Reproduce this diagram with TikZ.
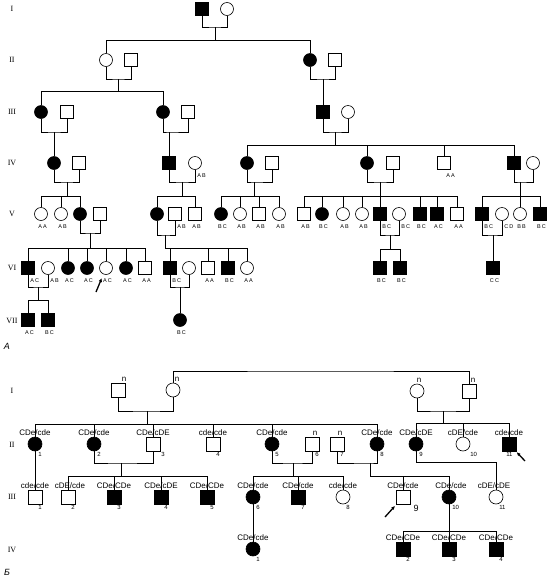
\documentclass[tikz,border=0pt]{standalone}
\usepackage{fontspec}
\setmainfont{Liberation Sans}
\newfontfamily\genfont{Liberation Serif}
\newfontfamily\tinyfont[LetterSpace=20]{Liberation Sans}
\usetikzlibrary{arrows.meta}
\begin{document}
\begin{tikzpicture}[x=1pt,y=-1pt,line width=0.6pt,
  msq/.style={draw,rectangle,minimum size=12.5pt,inner sep=0pt},
  fc/.style={draw,circle,minimum size=13pt,inner sep=0pt},
  bsq/.style={msq,minimum size=14pt},
  bfc/.style={fc,minimum size=14pt},
  aff/.style={fill=black},
  gt/.style={font=\tinyfont\fontsize{5.5}{6}\selectfont,inner sep=1pt,xshift=1.5pt,yshift=-3pt},
  gtr/.style={gt,anchor=north west,xshift=-0.5pt},
  geno/.style={font=\fontsize{8}{9}\selectfont,inner sep=1pt},
  nl/.style={geno,xshift=4pt},
  num/.style={font=\fontsize{6}{7}\selectfont,inner sep=1pt,anchor=north west,xshift=2pt},
  gen/.style={font=\genfont\fontsize{8}{9}\selectfont},
  pointer/.style={-{Latex[length=4pt,width=3.5pt]},line width=1.3pt}]
\useasboundingbox (0,0) rectangle (551,579);

% ---------- pedigree A ----------
\foreach \g/\y in {I/9,II/60,III/112,IV/163,V/214,VI/268,VII/321}
  \node[gen] (gA\g) at (12,\y) {\g};
\node[font=\itshape\fontsize{9}{10}\selectfont] (capA) at (7,346) {A};

% generation I
\node[msq,aff] (A1-1) at (202,9) {};
\node[fc] (A1-2) at (227,9) {};
\coordinate (mA1) at (215,27);
\coordinate (sA1) at (215,40);
\draw (A1-1.south) |- (mA1) -| (A1-2.south);
\draw (mA1) -- (sA1);

% generation II
\node[fc] (A2-1) at (106,60) {};
\node[msq] (A2-2) at (131,60) {};
\node[fc,aff] (A2-3) at (310,60) {};
\node[msq] (A2-4) at (335,60) {};
\foreach \c in {A2-1,A2-3} \draw (\c.north) |- (sA1);
\coordinate (mA2) at (118,79);
\coordinate (sA2) at (118,91);
\coordinate (mA3) at (323,79);
\draw (A2-1.south) |- (mA2) -| (A2-2.south);
\draw (mA2) -- (sA2);
\draw (A2-3.south) |- (mA3) -| (A2-4.south);

% generation III
\node[fc,aff] (A3-1) at (41,112) {};
\node[msq] (A3-2) at (67,112) {};
\node[fc,aff] (A3-3) at (163,112) {};
\node[msq] (A3-4) at (188,112) {};
\node[msq,aff] (A3-5) at (323,112) {};
\node[fc] (A3-6) at (348,112) {};
\foreach \c in {A3-1,A3-3} \draw (\c.north) |- (sA2);
\draw (mA3) -- (A3-5.north);
\coordinate (mA4) at (54,132);
\coordinate (mA5) at (169,132);
\coordinate (mA6) at (335,132);
\coordinate (sA6) at (335,145);
\draw (A3-1.south) |- (mA4) -| (A3-2.south);
\draw (A3-3.south) |- (mA5) -| (A3-4.south);
\draw (A3-5.south) |- (mA6) -| (A3-6.south);
\draw (mA6) -- (sA6);

% generation IV
\node[fc,aff] (A4-1) at (54,163) {};
\node[msq] (A4-2) at (79,163) {};
\node[msq,aff] (A4-3) at (169,163) {};
\node[fc,label={[gtr]south:AB}] (A4-4) at (195,163) {};
\node[fc,aff] (A4-5) at (247,163) {};
\node[msq] (A4-6) at (272,163) {};
\node[fc,aff] (A4-7) at (367,163) {};
\node[msq] (A4-8) at (393,163) {};
\node[msq,label={[gtr]south:AA}] (A4-9) at (444,163) {};
\node[msq,aff] (A4-10) at (514,163) {};
\node[fc] (A4-11) at (533,163) {};
\draw (mA4) -- (A4-1.north);
\draw (mA5) -- (A4-3.north);
\foreach \c in {A4-5,A4-7,A4-9,A4-10} \draw (\c.north) |- (sA6);
\coordinate (mA7) at (67,182);   \coordinate (sA7) at (67,196);
\coordinate (mA8) at (182,182);  \coordinate (sA8) at (182,196);
\coordinate (mA9) at (254,182);  \coordinate (sA9) at (254,196);
\coordinate (mA10) at (380,182); \coordinate (sA10) at (380,196);
\coordinate (mA11) at (520,182); \coordinate (sA11) at (520,196);
\draw (A4-1.south) |- (mA7) -| (A4-2.south);
\draw (A4-3.south) |- (mA8) -| (A4-4.south);
\draw (A4-5.south) |- (mA9) -| (A4-6.south);
\draw (A4-7.south) |- (mA10) -| (A4-8.south);
\draw (A4-10.south) |- (mA11) -| (A4-11.south);
\foreach \m/\s in {mA7/sA7,mA8/sA8,mA9/sA9,mA10/sA10,mA11/sA11} \draw (\m) -- (\s);

% generation V
\node[fc,label={[gt]below:AA}] (A5-1) at (41,214) {};
\node[fc,label={[gt]below:AB}] (A5-2) at (61,214) {};
\node[fc,aff] (A5-3) at (80,214) {};
\node[msq] (A5-4) at (100,214) {};
\node[fc,aff] (A5-5) at (157,214) {};
\node[msq,label={[gtr]south:AB}] (A5-6) at (175,214) {};
\node[msq,label={[gt]below:AB}] (A5-7) at (195,214) {};
\node[fc,aff,label={[gt]below:BC}] (A5-8) at (221,214) {};
\node[fc,label={[gt]below:AB}] (A5-9) at (240,214) {};
\node[msq,label={[gt]below:AB}] (A5-10) at (259,214) {};
\node[fc,label={[gt]below:AB}] (A5-11) at (279,214) {};
\node[msq,label={[gt]below:AB}] (A5-12) at (304,214) {};
\node[fc,aff,label={[gt]below:BC}] (A5-13) at (322,214) {};
\node[fc,label={[gt]below:AB}] (A5-14) at (343,214) {};
\node[fc,label={[gt]below:AB}] (A5-15) at (362,214) {};
\node[msq,aff,label={[gtr]south:BC}] (A5-16) at (380,214) {};
\node[fc,label={[gtr]south:BC}] (A5-17) at (399,214) {};
\node[msq,aff,label={[gt]below:BC}] (A5-18) at (420,214) {};
\node[msq,aff,label={[gt]below:AC}] (A5-19) at (437,214) {};
\node[msq,label={[gt]below:AA}] (A5-20) at (457,214) {};
\node[msq,aff,label={[gtr]south:BC}] (A5-21) at (482,214) {};
\node[fc,label={[gtr]south:CD}] (A5-22) at (502,214) {};
\node[fc,label={[gt]below:BB}] (A5-23) at (520,214) {};
\node[msq,aff,label={[gt]below:BC}] (A5-24) at (540,214) {};
\foreach \c in {A5-1,A5-2,A5-3} \draw (\c.north) |- (sA7);
\foreach \c in {A5-5,A5-7} \draw (\c.north) |- (sA8);
\foreach \c in {A5-8,A5-9,A5-10,A5-11} \draw (\c.north) |- (sA9);
\foreach \c in {A5-12,A5-13,A5-14,A5-15,A5-16,A5-18,A5-19,A5-20} \draw (\c.north) |- (sA10);
\foreach \c in {A5-21,A5-23,A5-24} \draw (\c.north) |- (sA11);
\coordinate (mA12) at (90,233);  \coordinate (sA12) at (90,248);
\coordinate (mA13) at (165,235); \coordinate (sA13) at (165,248);
\coordinate (mA14) at (390,235); \coordinate (sA14) at (390,249);
\coordinate (mA15) at (493,235);
\draw (A5-3.south) |- (mA12) -| (A5-4.south);
\draw (A5-5.south) |- (mA13) -| (A5-6.south);
\draw (A5-16.south) |- (mA14) -| (A5-17.south);
\draw (A5-21.south) |- (mA15) -| (A5-22.south);
\foreach \m/\s in {mA12/sA12,mA13/sA13,mA14/sA14} \draw (\m) -- (\s);

% generation VI
\node[msq,aff,label={[gtr]south:AC}] (A6-1) at (28,268) {};
\node[fc,label={[gtr]south:AB}] (A6-2) at (48,268) {};
\node[fc,aff,label={[gt]below:AC}] (A6-3) at (68,268) {};
\node[fc,aff,label={[gt]below:AC}] (A6-4) at (87,268) {};
\node[fc,label={[gt]below:AC}] (A6-5) at (106,268) {};
\node[fc,aff,label={[gt]below:AC}] (A6-6) at (126,268) {};
\node[msq,label={[gt]below:AA}] (A6-7) at (145,268) {};
\node[msq,aff,label={[gtr]south:BC}] (A6-8) at (170,268) {};
\node[fc] (A6-9) at (189,268) {};
\node[msq,label={[gt]below:AA}] (A6-10) at (208,268) {};
\node[msq,aff,label={[gt]below:BC}] (A6-11) at (228,268) {};
\node[fc,label={[gt]below:AA}] (A6-12) at (247,268) {};
\node[msq,aff,label={[gt]below:BC}] (A6-13) at (380,268) {};
\node[msq,aff,label={[gt]below:BC}] (A6-14) at (400,268) {};
\node[msq,aff,label={[gt]below:CC}] (A6-15) at (493,268) {};
\foreach \c in {A6-1,A6-3,A6-4,A6-5,A6-6,A6-7} \draw (\c.north) |- (sA12);
\foreach \c in {A6-8,A6-10,A6-11,A6-12} \draw (\c.north) |- (sA13);
\foreach \c in {A6-13,A6-14} \draw (\c.north) |- (sA14);
\draw (mA15) -- (A6-15.north);
\coordinate (mA16) at (38,287); \coordinate (sA16) at (38,300);
\coordinate (mA17) at (180,287);
\draw (A6-1.south) |- (mA16) -| (A6-2.south);
\draw (mA16) -- (sA16);
\draw (A6-8.south) |- (mA17) -| (A6-9.south);
\coordinate (arrA) at (96,292);
\draw[pointer,shorten >=4pt] (arrA) -- (A6-5);

% generation VII
\node[msq,aff,label={[gt]below:AC}] (A7-1) at (28,320) {};
\node[msq,aff,label={[gt]below:BC}] (A7-2) at (48,320) {};
\node[fc,aff,label={[gt]below:BC}] (A7-3) at (180,320) {};
\foreach \c in {A7-1,A7-2} \draw (\c.north) |- (sA16);
\draw (mA17) -- (A7-3.north);

% ---------- pedigree B ----------
\foreach \g/\y in {I/391,II/445,III/497,IV/550}
  \node[gen] (gB\g) at (12,\y) {\g};
\node[font=\itshape\fontsize{9}{10}\selectfont] (capB) at (7,572) {Б};

% generation I
\node[bsq,label={[nl,xshift=2pt]above:n}] (B1-1) at (118,390) {};
\node[bfc,label={[nl]above:n}] (B1-2) at (173,390) {};
\node[bfc,label={[nl,xshift=-2pt]above:n}] (B1-3) at (417,391) {};
\node[bsq,label={[nl]above:n}] (B1-4) at (469,391) {};
\coordinate (topB) at (320,371);
\coordinate (mB1) at (147,411); \coordinate (sB1) at (147,424);
\coordinate (mB2) at (443,411); \coordinate (sB2) at (443,423);
\draw (B1-1.south) |- (mB1) -| (B1-2.south);
\draw (B1-2.north) |- (topB) -| (B1-4.north);
\draw (B1-3.south) |- (mB2) -| (B1-4.south);
\draw (mB1) -- (sB1);
\draw (mB2) -- (sB2);

% generation II
\node[bfc,aff,label={[geno]above:CDe/cde},label={[num]south:1}] (B2-1) at (35,444) {};
\node[bfc,aff,label={[geno]above:CDe/cde},label={[num]south:2}] (B2-2) at (94,444) {};
\node[bsq,label={[geno]above:CDe/cDE},label={[num,xshift=5pt]south:3}] (B2-3) at (153,444) {};
\node[bsq,label={[geno]above:cde/cde},label={[num]south:4}] (B2-4) at (213,444) {};
\node[bfc,aff,label={[geno]above:CDe/cde},label={[num]south:5}] (B2-5) at (272,444) {};
\node[bsq,label={[nl,xshift=-1pt]above:n},label={[num]south:6}] (B2-6) at (312,444) {};
\node[bsq,label={[nl,xshift=-1pt]above:n},label={[num]south:7}] (B2-7) at (337,444) {};
\node[bfc,aff,label={[geno]above:CDe/cde},label={[num]south:8}] (B2-8) at (377,444) {};
\node[bfc,aff,label={[geno]above:CDe/cDE},label={[num]south:9}] (B2-9) at (416,444) {};
\node[bfc,label={[geno]above:cDE/cde},label={[num,xshift=4pt]south:10}] (B2-10) at (463,444) {};
\node[bsq,aff,label={[geno]above:cde/cde},label={[num,xshift=-6pt]south:11}] (B2-11) at (509,444) {};
\foreach \c in {B2-1,B2-2,B2-3,B2-4,B2-5,B2-8} \draw (\c.north) |- (sB1);
\foreach \c in {B2-9,B2-10,B2-11} \draw (\c.north) |- (sB2);
\coordinate (arrB1) at (525,461);
\draw[pointer,shorten >=1pt] (arrB1) -- (B2-11);
\coordinate (mB3) at (121,463); \coordinate (sB3) at (121,476);
\coordinate (mB4) at (293,463); \coordinate (sB4) at (293,476);
\coordinate (mB5) at (370,463); \coordinate (sB5) at (370,476);
\coordinate (cB9) at (496,462);
\draw (B2-2.south) |- (mB3) -| (B2-3.south);
\draw (B2-5.south) |- (mB4) -| (B2-6.south);
\draw (B2-7.south) |- (mB5) -| (B2-8.south);
\foreach \m/\s in {mB3/sB3,mB4/sB4,mB5/sB5} \draw (\m) -- (\s);

% generation III
\node[bsq,label={[geno]above:cde/cde},label={[num]south:1}] (B3-1) at (35,497) {};
\node[bsq,label={[geno,xshift=2pt]above:cDE/cde},label={[num]south:2}] (B3-2) at (68,497) {};
\node[bsq,aff,label={[geno]above:CDe/CDe},label={[num]south:3}] (B3-3) at (114,497) {};
\node[bsq,aff,label={[geno]above:CDe/cDE},label={[num]south:4}] (B3-4) at (161,497) {};
\node[bsq,aff,label={[geno]above:CDe/CDe},label={[num]south:5}] (B3-5) at (207,497) {};
\node[bfc,aff,label={[geno]above:CDe/cde},label={[num]south:6}] (B3-6) at (253,497) {};
\node[bsq,aff,label={[geno]above:CDe/cde},label={[num]south:7}] (B3-7) at (298,497) {};
\node[bfc,label={[geno]above:cde/cde},label={[num]south:8}] (B3-8) at (343,497) {};
\node[bsq,label={[geno]above:CDe/cde},label={[num,font=\fontsize{9}{10}\selectfont,anchor=north west,xshift=0pt]south east:9}] (B3-9) at (403,497) {};
\node[bfc,aff,label={[geno,xshift=2pt]above:CDe/cde},label={[num]south:10}] (B3-10) at (449,497) {};
\node[bfc,label={[geno,xshift=-2pt]above:cDE/cDE},label={[num]south:11}] (B3-11) at (496,497) {};
\draw (B2-1) -- (B3-1);
\foreach \c in {B3-2,B3-3,B3-4,B3-5} \draw (\c.north) |- (sB3);
\foreach \c in {B3-6,B3-7,B3-8} \draw (\c.north) |- (sB4);
\foreach \c in {B3-9,B3-10} \draw (\c.north) |- (sB5);
\draw (B2-9.south) |- (cB9) -- (B3-11.north);
\coordinate (arrB2) at (385,517);
\draw[pointer,shorten >=2pt] (arrB2) -- (B3-9);
\coordinate (sB6) at (449,531);

% generation IV
\node[bfc,aff,label={[geno]above:CDe/cde},label={[num]south:1}] (B4-1) at (253,549) {};
\node[bsq,aff,label={[geno]above:CDe/CDe},label={[num]south:2}] (B4-2) at (403,549) {};
\node[bsq,aff,label={[geno]above:CDe/CDe},label={[num]south:3}] (B4-3) at (449,549) {};
\node[bsq,aff,label={[geno]above:CDe/CDe},label={[num]south:4}] (B4-4) at (496,549) {};
\draw (B3-6) -- (B4-1);
\draw (B3-10) -- (sB6);
\foreach \c in {B4-2,B4-3,B4-4} \draw (\c.north) |- (sB6);
\end{tikzpicture}
\end{document}
